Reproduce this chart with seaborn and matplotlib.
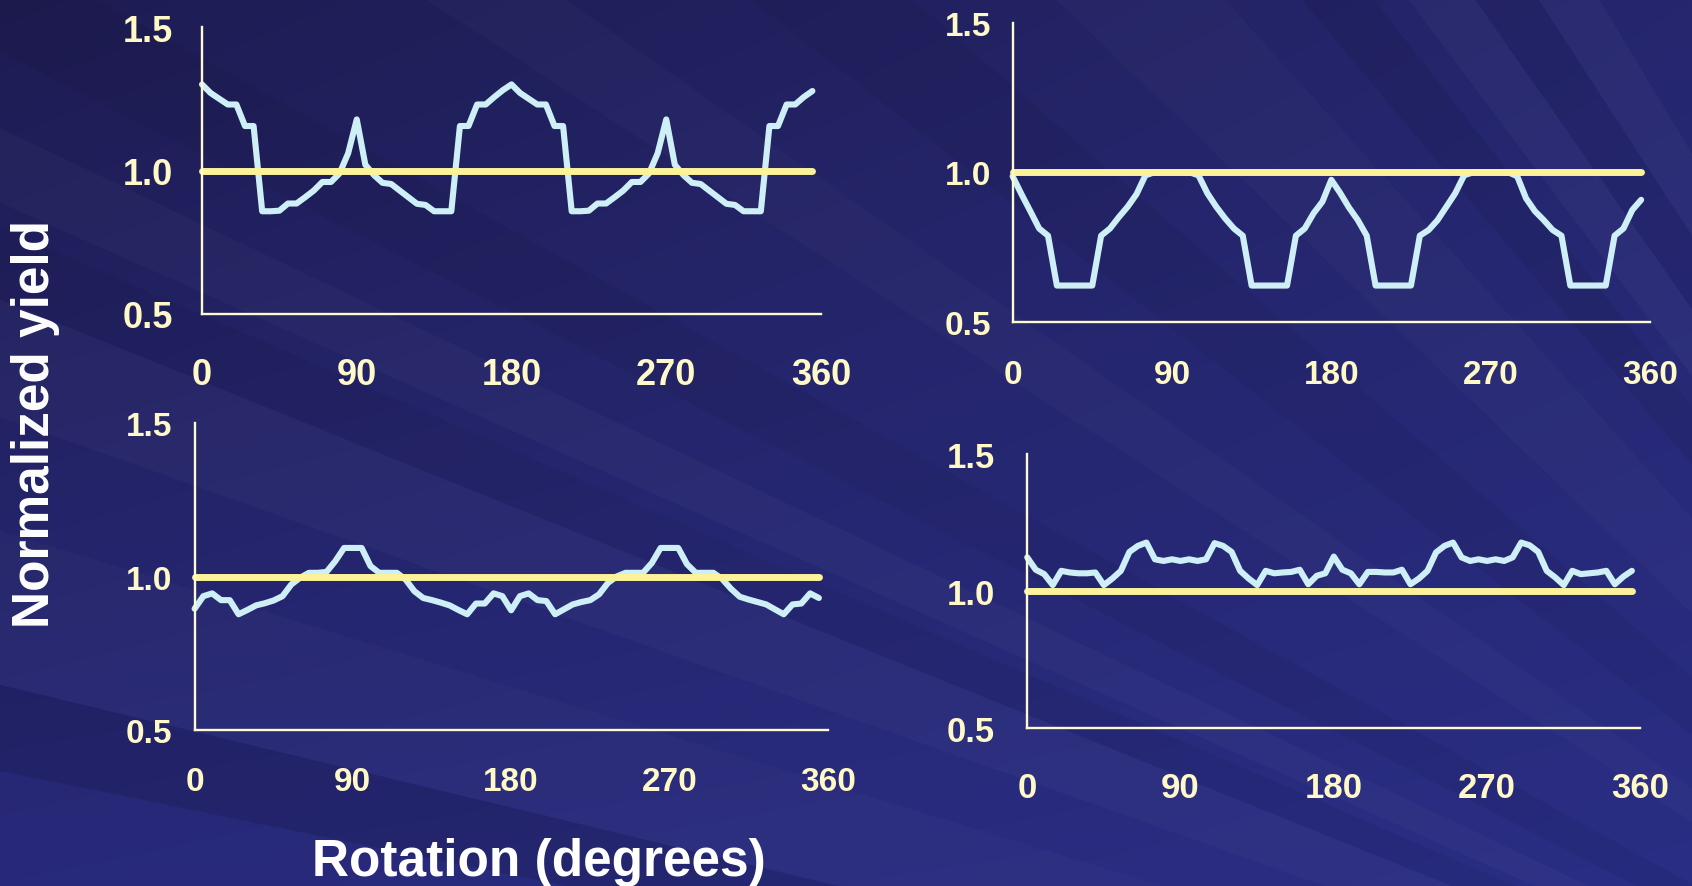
import matplotlib
matplotlib.use("Agg")
import matplotlib.pyplot as plt
import numpy as np
import pandas as pd
import seaborn as sns
from matplotlib.patches import Polygon
from matplotlib.colors import to_rgb

# ---------------- data ----------------
rotation = list(range(0, 360, 5))  # degrees, 0..355 in 5-degree steps

panel1_yield = [1.30, 1.27, 1.25, 1.23, 1.23, 1.155, 1.155, 0.858, 0.858, 0.86, 0.885, 0.885,
                0.907, 0.93, 0.96, 0.96, 0.99, 1.06, 1.178, 1.02, 0.984, 0.957, 0.953, 0.93,
                0.907, 0.884, 0.88, 0.858, 0.858, 0.858, 1.155, 1.155, 1.23, 1.23, 1.256, 1.28,
                1.30, 1.27, 1.25, 1.23, 1.23, 1.155, 1.155, 0.858, 0.858, 0.86, 0.885, 0.885,
                0.907, 0.93, 0.96, 0.96, 0.99, 1.06, 1.178, 1.02, 0.984, 0.957, 0.953, 0.93,
                0.907, 0.884, 0.88, 0.858, 0.858, 0.858, 1.155, 1.155, 1.23, 1.23, 1.256, 1.277]

panel2_yield = [0.987, 0.927, 0.87, 0.812, 0.788, 0.621, 0.621, 0.621, 0.621, 0.621, 0.788, 0.812,
                0.85, 0.885, 0.927, 0.99, 1.0, 1.0, 1.0, 1.0, 1.0, 0.99, 0.93, 0.885,
                0.846, 0.812, 0.788, 0.621, 0.621, 0.621, 0.621, 0.621, 0.788, 0.812, 0.863, 0.902,
                0.975, 0.931, 0.882, 0.84, 0.788, 0.621, 0.621, 0.621, 0.621, 0.621, 0.788, 0.807,
                0.84, 0.885, 0.93, 0.99, 1.0, 1.0, 1.0, 1.0, 1.0, 0.987, 0.913, 0.87,
                0.84, 0.807, 0.788, 0.621, 0.621, 0.621, 0.621, 0.621, 0.788, 0.812, 0.874, 0.908]

panel3_yield = [0.895, 0.936, 0.945, 0.923, 0.923, 0.877, 0.891, 0.906, 0.913, 0.922, 0.936, 0.974,
                0.996, 1.012, 1.012, 1.015, 1.05, 1.093, 1.093, 1.093, 1.034, 1.012, 1.012, 1.012,
                0.99, 0.952, 0.93, 0.923, 0.915, 0.906, 0.891, 0.877, 0.912, 0.912, 0.945, 0.936,
                0.89, 0.936, 0.945, 0.923, 0.92, 0.877, 0.893, 0.909, 0.917, 0.923, 0.942, 0.979,
                1.0, 1.012, 1.012, 1.012, 1.044, 1.093, 1.093, 1.093, 1.04, 1.012, 1.012, 1.012,
                0.992, 0.96, 0.934, 0.925, 0.917, 0.909, 0.893, 0.877, 0.909, 0.912, 0.945, 0.93]

panel4_yield = [1.122, 1.077, 1.061, 1.021, 1.073, 1.067, 1.064, 1.064, 1.067, 1.021, 1.045, 1.073,
                1.142, 1.164, 1.176, 1.115, 1.109, 1.115, 1.109, 1.115, 1.109, 1.115, 1.174, 1.164,
                1.142, 1.073, 1.045, 1.021, 1.073, 1.064, 1.067, 1.069, 1.077, 1.024, 1.055, 1.064,
                1.125, 1.077, 1.064, 1.024, 1.069, 1.069, 1.067, 1.067, 1.077, 1.024, 1.045, 1.073,
                1.14, 1.164, 1.176, 1.122, 1.109, 1.115, 1.109, 1.115, 1.109, 1.122, 1.176, 1.166,
                1.142, 1.073, 1.049, 1.021, 1.073, 1.061, 1.064, 1.067, 1.073, 1.024, 1.052, 1.073]

reference_yield = [1.0] * len(rotation)

x_ticks = [0, 90, 180, 270, 360]
y_ticks = [0.5, 1.0, 1.5]
y_tick_labels = ["0.5", "1.0", "1.5"]

x_label = "Rotation (degrees)"
y_label = "Normalized yield"

# ---------------- style ----------------
sns.set_theme(style="white")
plt.rcParams["font.family"] = ["Liberation Sans", "DejaVu Sans"]
plt.rcParams["font.weight"] = "bold"

W, H = 1692, 887
fig = plt.figure(figsize=(W / 100, H / 100), dpi=100)
fig.patch.set_facecolor("#26276F")

# ---- background: diagonal gradient + subtle ray streaks ----
bg = fig.add_axes([0, 0, 1, 1], zorder=-10)
bg.set_xlim(0, W)
bg.set_ylim(H, 0)
bg.axis("off")
tl, tr, bl, br = (np.array(to_rgb(c)) for c in ("#1E1C52", "#25266E", "#28297A", "#2A2E84"))
gx = np.linspace(0, 1, 200)[None, :, None]
gy = np.linspace(0, 1, 120)[:, None, None]
grad = (tl * (1 - gx) * (1 - gy) + tr * gx * (1 - gy) + bl * (1 - gx) * gy + br * gx * gy)
bg.imshow(grad, extent=[0, W, H, 0], aspect="auto", interpolation="bilinear", zorder=0)

cx, cy = 2350, 1250
streaks = [
    (11.5, 13.5, "black", 0.11), (13.5, 17.0, "white", 0.02), (19.5, 22.0, "white", 0.025),
    (22.0, 23.5, "black", 0.05), (24.0, 25.5, "white", 0.025), (27.0, 29.0, "black", 0.05),
    (33.0, 35.0, "white", 0.02), (38.0, 41.0, "black", 0.05), (44.0, 48.0, "white", 0.02),
    (50.0, 52.0, "black", 0.07), (53.0, 55.0, "white", 0.03), (55.0, 57.0, "black", 0.05),
    (57.0, 59.0, "white", 0.03),
]
R = 5000
for a1, a2, col, alp in streaks:
    t1, t2 = np.radians(a1), np.radians(a2)
    pts = [(cx, cy),
           (cx - R * np.cos(t1), cy - R * np.sin(t1)),
           (cx - R * np.cos(t2), cy - R * np.sin(t2))]
    bg.add_patch(Polygon(pts, closed=True, facecolor=col, edgecolor="none",
                         alpha=alp, zorder=1))

axis_col = "#FFFBD0"
tick_col = "#FFF9C8"
cyan = "#CFEFF6"
yellow = "#FBF29A"

# panel boxes in pixels: (left, top, right, bottom) of the plotting area
panels = [
    dict(box=(202, 28, 821, 315), y=panel1_yield, fs=26, xpad=23.5, ypad=14),
    dict(box=(1012.6, 24, 1650, 322.7), y=panel2_yield, fs=24, xpad=20, ypad=8.5),
    dict(box=(194.6, 424, 827.7, 731), y=panel3_yield, fs=24, xpad=18.5, ypad=9),
    dict(box=(1027.2, 454.7, 1640.4, 729), y=panel4_yield, fs=25, xpad=23.5, ypad=16),
]

for p in panels:
    l, t, r, b = p["box"]
    ax = fig.add_axes([l / W, 1 - b / H, (r - l) / W, (b - t) / H])
    ax.set_facecolor("none")
    sns.lineplot(x=rotation, y=p["y"], ax=ax, color=cyan, linewidth=4.4,
                 estimator=None, sort=False, legend=False,
                 solid_capstyle="round", solid_joinstyle="round", clip_on=False)
    sns.lineplot(x=rotation, y=reference_yield, ax=ax, color=yellow, linewidth=5.0,
                 estimator=None, sort=False, legend=False,
                 solid_capstyle="round", solid_joinstyle="round", clip_on=False)
    ax.set_xlim(0, 360)
    ax.set_ylim(0.5, 1.5)
    ax.set_xticks(x_ticks)
    ax.set_xticklabels([str(v) for v in x_ticks])
    ax.set_yticks(y_ticks)
    ax.set_yticklabels(y_tick_labels)
    ax.set_xlabel("")
    ax.set_ylabel("")
    for s in ["top", "right"]:
        ax.spines[s].set_visible(False)
    for s in ["left", "bottom"]:
        ax.spines[s].set_color(axis_col)
        ax.spines[s].set_linewidth(1.7)
    ax.tick_params(axis="both", direction="out", length=7.2, width=1.6,
                   color=axis_col, labelcolor=tick_col, labelsize=p["fs"])
    ax.tick_params(axis="x", pad=p["xpad"])
    ax.tick_params(axis="y", pad=p["ypad"])
    for lab in ax.get_xticklabels() + ax.get_yticklabels():
        lab.set_fontweight("bold")
        lab.set_fontfamily(["Liberation Sans", "DejaVu Sans"])
    ax.grid(False)

fig.text(538.5 / W, 1 - 876 / H, x_label, ha="center", va="baseline",
         color="white", fontsize=37, fontweight="bold",
         family=["Liberation Sans", "DejaVu Sans"])
fig.text(36 / W, 1 - 424.5 / H, y_label, ha="center", va="center", rotation=90,
         color="white", fontsize=37, fontweight="bold",
         family=["Liberation Sans", "DejaVu Sans"])

fig.savefig("out.png", dpi=100, facecolor=fig.get_facecolor())
